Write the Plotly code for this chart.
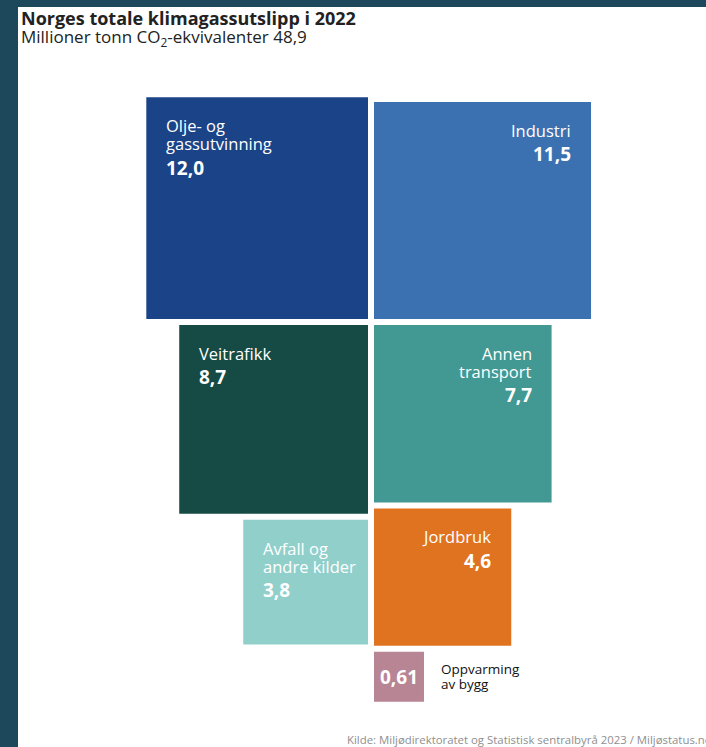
import math
import plotly.graph_objects as go

# ---------------- data ----------------
categories = [["Olje- og", "gassutvinning"], ["Industri"], ["Veitrafikk"],
              ["Annen", "transport"], ["Avfall og", "andre kilder"], ["Jordbruk"],
              ["Oppvarming", "av bygg"]]
values = [12.0, 11.5, 8.7, 7.7, 3.8, 4.6, 0.61]
value_labels = ["12,0", "11,5", "8,7", "7,7", "3,8", "4,6", "0,61"]
columns = ["left", "right", "left", "right", "left", "right", "right"]
label_pos = ["left", "right", "left", "right", "left", "right", "outside"]
colors = ["#1b4387", "#3b71b1", "#164b45", "#429994", "#91cfcb", "#e07320", "#b88595"]

title_text = "Norges totale klimagassutslipp i 2022"
subtitle_text = "Millioner tonn CO<sub>2</sub>-ekvivalenter 48,9"
source_text = "Kilde: Miljødirektoratet og Statistisk sentralbyrå 2023 / Miljøstatus.no"

# ---------------- layout constants ----------------
W, H = 706, 747
FRAME_L, FRAME_T = 18, 7
FRAME_COLOR = "#1d475b"
SCALE = 64.0          # side length per sqrt(unit)
X_LEFT_EDGE = 368     # right edge of left column
X_RIGHT_EDGE = 374    # left edge of right column
ROW1_BOTTOM = 319
GAP = 6
FONT = "Open Sans"

fig = go.Figure()
fig.add_trace(go.Scatter(x=[None], y=[None], showlegend=False, hoverinfo="skip"))

shapes = [
    dict(type="rect", xref="x", yref="y", x0=0, x1=FRAME_L, y0=0, y1=H,
         fillcolor=FRAME_COLOR, line=dict(width=0)),
    dict(type="rect", xref="x", yref="y", x0=0, x1=W, y0=0, y1=FRAME_T,
         fillcolor=FRAME_COLOR, line=dict(width=0)),
]
annotations = []


def text_line(x, baseline, text, size, color, xanchor="left", bold=False):
    t = "<b>" + text + "</b>" if bold else text
    annotations.append(dict(x=x, y=baseline - 0.35 * size, xref="x", yref="y", text=t,
                            xanchor=xanchor, yanchor="middle", align=xanchor,
                            showarrow=False,
                            font=dict(family=FONT, size=size, color=color)))


# compute square positions
next_top = {"left": ROW1_BOTTOM + GAP, "right": ROW1_BOTTOM + GAP}
first_done = {"left": False, "right": False}
rects = []
for i, v in enumerate(values):
    side = SCALE * math.sqrt(v)
    col = columns[i]
    if not first_done[col]:
        y1 = ROW1_BOTTOM
        y0 = y1 - side
        first_done[col] = True
    else:
        y0 = next_top[col]
        y1 = y0 + side
        next_top[col] = y1 + GAP
    if col == "left":
        x1 = X_LEFT_EDGE
        x0 = x1 - side
    else:
        x0 = X_RIGHT_EDGE
        x1 = x0 + side
    rects.append((x0, x1, y0, y1))
    shapes.append(dict(type="rect", xref="x", yref="y", x0=x0, x1=x1, y0=y0, y1=y1,
                       fillcolor=colors[i], line=dict(width=0), layer="below"))

NAME_FS = 16.5
VAL_FS = 19
LINE_H = 18
for i, (x0, x1, y0, y1) in enumerate(rects):
    pos = label_pos[i]
    lines = categories[i]
    if pos in ("left", "right"):
        if pos == "left":
            tx, xa = x0 + 18, "left"
        else:
            tx, xa = x1 - 18, "right"
        b = y0 + 34
        for ln in lines:
            text_line(tx, b, ln, NAME_FS, "white", xa)
            b += LINE_H
        text_line(tx, b - LINE_H + 25, value_labels[i], VAL_FS, "white", xa, bold=True)
    else:
        cy = (y0 + y1) / 2
        annotations.append(dict(x=(x0 + x1) / 2, y=cy, xref="x", yref="y",
                                text="<b>" + value_labels[i] + "</b>",
                                xanchor="center", yanchor="middle", showarrow=False,
                                font=dict(family=FONT, size=VAL_FS, color="white")))
        b = cy - 3.5
        for ln in lines:
            text_line(x1 + 15, b, ln, 13.5, "#111111", "left")
            b += 15

# titles & source
text_line(19, 24, title_text, 18, "#222222", bold=True)
text_line(19, 43, subtitle_text, 17, "#222222")
text_line(345, 743, source_text, 11.4, "#8f8f8f")

fig.update_layout(
    width=W, height=H,
    margin=dict(l=0, t=0, r=0, b=0, pad=0),
    paper_bgcolor="white",
    plot_bgcolor="white",
    shapes=shapes,
    annotations=annotations,
    showlegend=False,
    xaxis=dict(range=[0, W], visible=False, fixedrange=True),
    yaxis=dict(range=[H, 0], visible=False, fixedrange=True),
)

fig.write_html("out.html", config={"displayModeBar": False},
               post_script="document.body.style.margin='0';document.body.style.overflow='hidden';")
